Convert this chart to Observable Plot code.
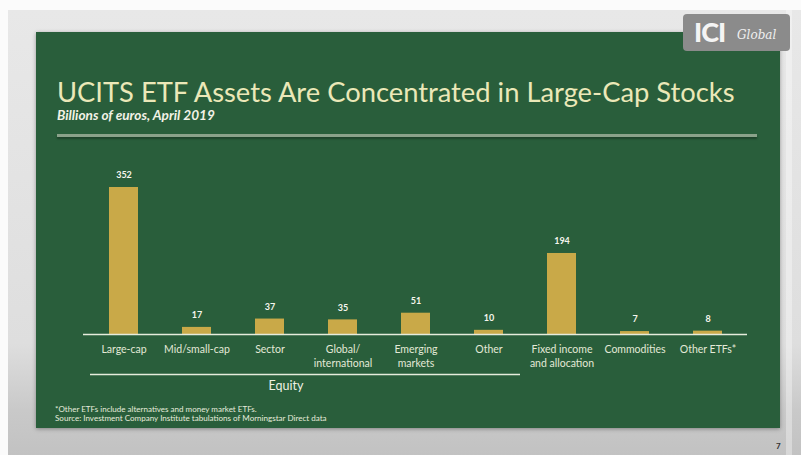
<!DOCTYPE html>
<html>
<head>
<meta charset="utf-8">
<script src="https://cdn.jsdelivr.net/npm/d3@7"></script>
<script src="https://cdn.jsdelivr.net/npm/@observablehq/plot@0.6"></script>
<style>
  html, body { margin: 0; padding: 0; width: 801px; height: 455px; overflow: hidden; background: #fbfbfb; font-family: Lato, "Noto Sans", sans-serif; }
  #stage { position: absolute; left: 8px; top: 10px; width: 793px; height: 445px;
    background: linear-gradient(#e8e8e8 0%, #dedede 75%, #c9c9c9 90%, #c2c2c2 100%); }
  #strip { position: absolute; left: 786px; top: 10px; width: 6px; height: 445px; background: rgba(255,255,255,0.35); }
  #panel { position: absolute; left: 36px; top: 32px; width: 744px; height: 396px; background: #295e3b;
    box-shadow: 0 1px 4px rgba(0,0,0,0.35); }
  #logo { position: absolute; left: 683px; top: 14px; width: 107px; height: 37px; background: #8b8b8b; border-radius: 4px; }
  #logo .ici { position: absolute; left: 11px; top: 3px; font: 900 27px/30px Lato, sans-serif; color: #f4f4f4; letter-spacing: -1px; }
  #logo .glob { position: absolute; left: 54px; top: 14px; font: italic 12px/14px "DejaVu Serif", "Liberation Serif", serif; color: #f0f0f0; }
  #title { position: absolute; left: 57px; top: 77px; font: 400 26px/1.2 Lato, sans-serif; color: #ebe8b8; white-space: nowrap; }
  #subtitle { position: absolute; left: 57px; top: 109px; font: italic 700 11px/1.2 Lato, sans-serif; color: #f2f2e6; white-space: nowrap; }
  #sep { position: absolute; left: 57px; top: 134px; width: 700px; height: 3px; background: #8aa28a; box-shadow: 0 2px 2px rgba(0,0,0,0.3); }
  #chart { position: absolute; left: 0; top: 150px; }
  .foot { position: absolute; left: 55px; font: 400 7px/1.2 Lato, sans-serif; color: #e6ecdc; white-space: nowrap; }
  #page { position: absolute; left: 776px; top: 441px; font: 700 8px/10px Lato, sans-serif; color: #333; }
</style>
</head>
<body>
<div id="stage"></div>
<div id="strip"></div>
<div id="panel"></div>
<div id="logo"><span class="ici">ICI</span><span class="glob">Global</span></div>
<div id="title">UCITS ETF Assets Are Concentrated in Large-Cap Stocks</div>
<div id="subtitle">Billions of euros, April 2019</div>
<div id="sep"></div>
<div id="chart"></div>
<div class="foot" id="f1">*Other ETFs include alternatives and money market ETFs.</div>
<div class="foot" id="f2">Source: Investment Company Institute tabulations of Morningstar Direct data</div>
<div id="page">7</div>
<script>
// ---- data ----
const categories = ["Large-cap", "Mid/small-cap", "Sector", "Global/\ninternational", "Emerging\nmarkets", "Other", "Fixed income\nand allocation", "Commodities", "Other ETFs*"];
const values = [352, 17, 37, 35, 51, 10, 194, 7, 8];
const groupSpans = [{ label: "Equity", from: "Large-cap", to: "Other", anchor: "Sector", y: 0 }];

const data = categories.map((c, i) => ({ category: c, value: values[i] }));

const chart = Plot.plot({
  width: 801,
  height: 250,
  marginLeft: 83,
  marginRight: 54,
  marginTop: 37,
  marginBottom: 66,
  x: { domain: categories, paddingInner: 0.607, paddingOuter: 0.3035, align: 0.5 },
  y: { domain: [0, 352], axis: null },
  style: { background: "transparent", color: "#e3e9d7", fontFamily: "Lato, sans-serif", overflow: "visible" },
  marks: [
    Plot.barY(data, { x: "category", y: "value", fill: "#c9a948" }),
    Plot.ruleY([0], { stroke: "#e6ecdc", strokeWidth: 1.5 }),
    Plot.text(data, { x: "category", y: "value", text: d => String(d.value), dy: -12, fill: "#f6f6ee", fontWeight: "bold", fontSize: 9 }),
    Plot.axisX({ tickSize: 0, tickPadding: 9, fontSize: 10.5, lineHeight: 1.3, label: null }),
    Plot.ruleY(groupSpans, { y: "y", x1: "from", x2: "to", dy: 40, insetLeft: -19, insetRight: -17, stroke: "#e6ecdc", strokeWidth: 1.5 }),
    Plot.text(groupSpans, { x: "anchor", y: "y", text: "label", dx: 16, dy: 51, fontSize: 12.5, fill: "#eef2e4" })
  ]
});
document.getElementById("chart").appendChild(chart);

// fit a text line to a measured width and put its baseline at a given y
function fit(id, w, baseline) {
  const el = document.getElementById(id);
  const fs0 = parseFloat(getComputedStyle(el).fontSize);
  const fs = fs0 * w / el.getBoundingClientRect().width;
  el.style.fontSize = fs + "px";
  const h = el.getBoundingClientRect().height;
  // line-height 1.2: baseline sits at about 0.987em from the box top for Lato
  el.style.top = (baseline - (h - 1.2 * fs) / 2 - 0.987 * fs) + "px";
}
fit("title", 678, 102.5);
fit("subtitle", 158, 120.5);
fit("f1", 202, 413);
fit("f2", 272, 422);
</script>
</body>
</html>
